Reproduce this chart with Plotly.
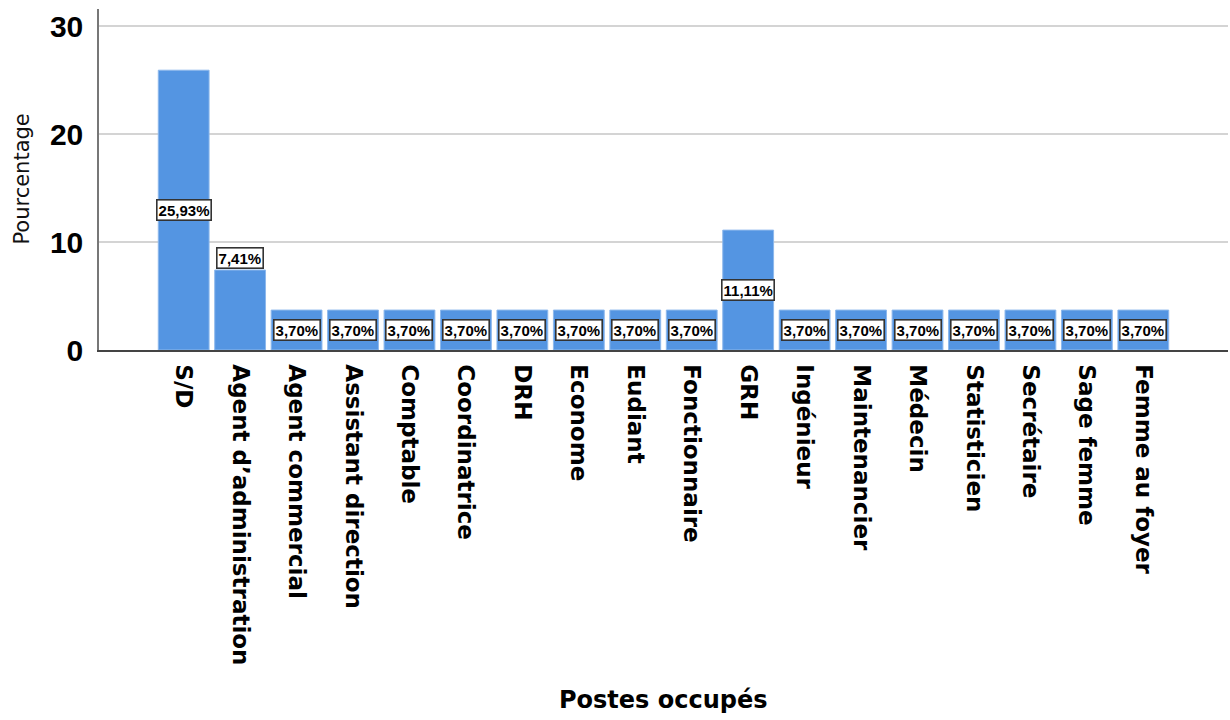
import plotly.graph_objects as go

# Occupied positions and their share of respondents (%)
postes = [
    "S/D", "Agent d’administration", "Agent commercial", "Assistant direction",
    "Comptable", "Coordinatrice", "DRH", "Econome", "Eudiant", "Fonctionnaire",
    "GRH", "Ingénieur", "Maintenancier", "Médecin", "Statisticien",
    "Secrétaire", "Sage femme", "Femme au foyer",
]
pourcentages = [
    25.93, 7.41, 3.70, 3.70, 3.70, 3.70, 3.70, 3.70, 3.70, 3.70,
    11.11, 3.70, 3.70, 3.70, 3.70, 3.70, 3.70, 3.70,
]
# labels drawn above the bar instead of inside it
labels_above = {"Agent d’administration"}

BAR_BLUE = "#5495E2"

fig = go.Figure(
    go.Bar(
        x=postes,
        y=pourcentages,
        marker=dict(color=BAR_BLUE, line=dict(color="#8DB8EC", width=1)),
        hoverinfo="skip",
    )
)

annotations = []
for cat, val in zip(postes, pourcentages):
    txt = f"{val:.2f}%".replace(".", ",")
    above = cat in labels_above
    annotations.append(dict(
        x=cat,
        y=val if above else val / 2,
        xref="x", yref="y",
        yanchor="bottom" if above else "middle",
        yshift=1 if above else 0,
        text=txt,
        showarrow=False,
        font=dict(family="Liberation Sans", size=15, color="black", weight="bold"),
        bgcolor="white",
        bordercolor="#333333",
        borderwidth=1.6,
        borderpad=1,
    ))

# axis titles
annotations.append(dict(
    x=0.5, y=-1.026, xref="paper", yref="paper",
    xanchor="center", yanchor="middle",
    text="Postes occupés", showarrow=False,
    font=dict(family="DejaVu Sans", size=24, color="black", weight="bold"),
))
annotations.append(dict(
    x=-0.069, y=0.5, xref="paper", yref="paper",
    xanchor="center", yanchor="middle", textangle=-90,
    text="Pourcentage", showarrow=False,
    font=dict(family="DejaVu Sans", size=21, color="#111111", weight=500),
))

fig.update_layout(
    width=1230, height=720,
    margin=dict(l=99, r=2, t=9, b=370),
    paper_bgcolor="white",
    plot_bgcolor="white",
    bargap=0.1,
    showlegend=False,
    annotations=annotations,
    xaxis=dict(
        type="category",
        range=[-1.5, 18.5],
        tickangle=90,
        tickfont=dict(family="DejaVu Sans", size=23, color="black", weight="bold"),
        ticklabelstandoff=8,
        showgrid=False,
        showline=True, linecolor="#444444", linewidth=1.5,
        ticks="",
    ),
    yaxis=dict(
        range=[0, 31.6],
        tickvals=[0, 10, 20, 30],
        tickfont=dict(family="Liberation Sans", size=30, color="black", weight="bold"),
        ticklabelstandoff=8,
        showgrid=True, gridcolor="#D4D4D4", gridwidth=1.5,
        showline=True, linecolor="#777777", linewidth=1.5,
        zeroline=False,
        ticks="",
    ),
)

fig.write_html("out.html")
